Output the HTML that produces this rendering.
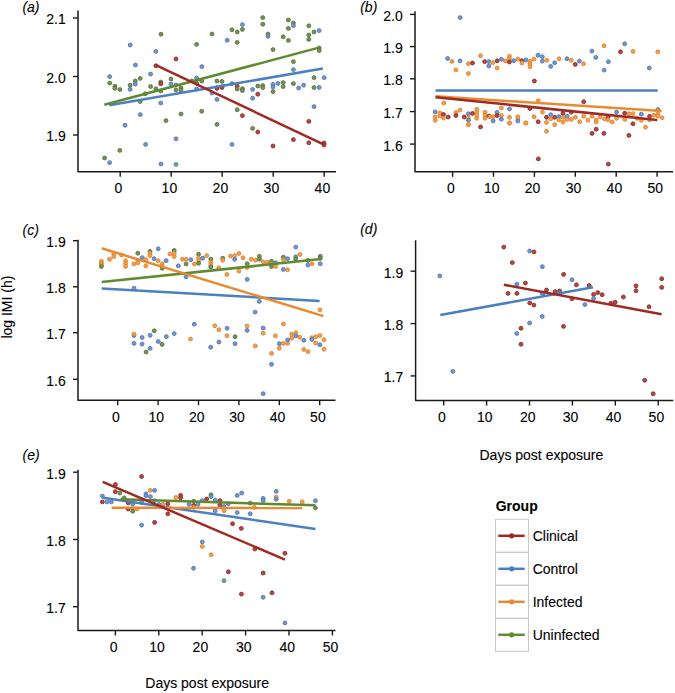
<!DOCTYPE html><html><head><meta charset="utf-8"><style>html,body{margin:0;padding:0;background:#fff;}svg{display:block;}text{font-family:"Liberation Sans", sans-serif;stroke:#000;stroke-width:0.1px;paint-order:stroke;}circle.r{fill:#b04a45;stroke:#8c2b2b;stroke-width:0.9px;}circle.b{fill:#7596cf;stroke:#5276b5;stroke-width:0.9px;}circle.o{fill:#f0a055;stroke:#dc8530;stroke-width:0.9px;}circle.g{fill:#789158;stroke:#58743b;stroke-width:0.9px;}</style></head><body>
<svg width="675" height="693" viewBox="0 0 675 693">
<rect width="675" height="693" fill="#fff"/>
<circle class="g" cx="161.0" cy="34.2" r="1.95"/>
<circle class="g" cx="212.0" cy="34.0" r="1.95"/>
<circle class="b" cx="227.2" cy="40.2" r="1.95"/>
<circle class="b" cx="130.2" cy="45.0" r="1.95"/>
<circle class="g" cx="196.6" cy="44.4" r="1.95"/>
<circle class="b" cx="155.8" cy="51.4" r="1.95"/>
<circle class="r" cx="176.0" cy="59.0" r="1.95"/>
<circle class="b" cx="135.4" cy="65.0" r="1.95"/>
<circle class="r" cx="155.8" cy="65.8" r="1.95"/>
<circle class="b" cx="201.8" cy="66.6" r="1.95"/>
<circle class="b" cx="109.7" cy="76.6" r="1.95"/>
<circle class="b" cx="150.6" cy="74.1" r="1.95"/>
<circle class="g" cx="140.2" cy="78.4" r="1.95"/>
<circle class="g" cx="109.7" cy="83.1" r="1.95"/>
<circle class="g" cx="114.9" cy="86.2" r="1.95"/>
<circle class="g" cx="114.9" cy="88.3" r="1.95"/>
<circle class="g" cx="119.9" cy="89.5" r="1.95"/>
<circle class="g" cx="135.3" cy="80.9" r="1.95"/>
<circle class="b" cx="135.3" cy="84.1" r="1.95"/>
<circle class="g" cx="130.1" cy="85.2" r="1.95"/>
<circle class="b" cx="130.1" cy="89.3" r="1.95"/>
<circle class="g" cx="150.6" cy="86.5" r="1.95"/>
<circle class="g" cx="155.8" cy="88.8" r="1.95"/>
<circle class="g" cx="160.8" cy="82.0" r="1.95"/>
<circle class="r" cx="160.8" cy="83.8" r="1.95"/>
<circle class="g" cx="160.8" cy="91.0" r="1.95"/>
<circle class="g" cx="145.2" cy="93.8" r="1.95"/>
<circle class="g" cx="140.2" cy="101.5" r="1.95"/>
<circle class="b" cx="160.8" cy="103.0" r="1.95"/>
<circle class="b" cx="140.3" cy="114.6" r="1.95"/>
<circle class="g" cx="171.0" cy="79.0" r="1.95"/>
<circle class="b" cx="171.0" cy="84.0" r="1.95"/>
<circle class="b" cx="176.0" cy="85.0" r="1.95"/>
<circle class="g" cx="176.0" cy="90.0" r="1.95"/>
<circle class="g" cx="181.0" cy="88.0" r="1.95"/>
<circle class="g" cx="181.0" cy="90.0" r="1.95"/>
<circle class="b" cx="196.6" cy="78.0" r="1.95"/>
<circle class="g" cx="191.8" cy="81.0" r="1.95"/>
<circle class="g" cx="196.6" cy="83.0" r="1.95"/>
<circle class="g" cx="201.8" cy="81.0" r="1.95"/>
<circle class="b" cx="196.6" cy="89.0" r="1.95"/>
<circle class="g" cx="201.7" cy="111.3" r="1.95"/>
<circle class="g" cx="232.0" cy="29.8" r="1.95"/>
<circle class="g" cx="237.2" cy="32.0" r="1.95"/>
<circle class="g" cx="237.2" cy="42.4" r="1.95"/>
<circle class="b" cx="242.4" cy="24.6" r="1.95"/>
<circle class="g" cx="242.4" cy="29.4" r="1.95"/>
<circle class="g" cx="262.8" cy="17.6" r="1.95"/>
<circle class="g" cx="262.8" cy="24.2" r="1.95"/>
<circle class="g" cx="268.0" cy="34.0" r="1.95"/>
<circle class="b" cx="268.0" cy="36.4" r="1.95"/>
<circle class="g" cx="273.0" cy="49.6" r="1.95"/>
<circle class="g" cx="283.2" cy="36.8" r="1.95"/>
<circle class="g" cx="288.4" cy="20.0" r="1.95"/>
<circle class="g" cx="288.4" cy="28.4" r="1.95"/>
<circle class="g" cx="288.4" cy="40.4" r="1.95"/>
<circle class="g" cx="293.4" cy="23.0" r="1.95"/>
<circle class="b" cx="293.4" cy="25.6" r="1.95"/>
<circle class="g" cx="308.8" cy="25.8" r="1.95"/>
<circle class="g" cx="308.8" cy="35.0" r="1.95"/>
<circle class="g" cx="308.8" cy="39.4" r="1.95"/>
<circle class="g" cx="314.0" cy="32.0" r="1.95"/>
<circle class="b" cx="319.2" cy="30.6" r="1.95"/>
<circle class="g" cx="319.2" cy="48.0" r="1.95"/>
<circle class="g" cx="319.2" cy="50.6" r="1.95"/>
<circle class="g" cx="293.4" cy="61.6" r="1.95"/>
<circle class="b" cx="293.4" cy="69.6" r="1.95"/>
<circle class="g" cx="217.0" cy="81.0" r="1.95"/>
<circle class="g" cx="222.0" cy="81.4" r="1.95"/>
<circle class="b" cx="217.0" cy="87.6" r="1.95"/>
<circle class="r" cx="217.0" cy="88.4" r="1.95"/>
<circle class="b" cx="222.0" cy="86.6" r="1.95"/>
<circle class="r" cx="222.0" cy="87.5" r="1.95"/>
<circle class="b" cx="232.0" cy="83.6" r="1.95"/>
<circle class="r" cx="237.2" cy="86.2" r="1.95"/>
<circle class="g" cx="237.2" cy="89.0" r="1.95"/>
<circle class="g" cx="242.4" cy="88.6" r="1.95"/>
<circle class="g" cx="242.4" cy="90.6" r="1.95"/>
<circle class="b" cx="252.6" cy="89.4" r="1.95"/>
<circle class="g" cx="257.8" cy="86.0" r="1.95"/>
<circle class="g" cx="262.8" cy="85.6" r="1.95"/>
<circle class="g" cx="262.8" cy="87.6" r="1.95"/>
<circle class="b" cx="273.0" cy="84.4" r="1.95"/>
<circle class="b" cx="273.0" cy="87.0" r="1.95"/>
<circle class="g" cx="273.0" cy="91.6" r="1.95"/>
<circle class="b" cx="278.0" cy="83.4" r="1.95"/>
<circle class="g" cx="283.2" cy="82.6" r="1.95"/>
<circle class="g" cx="283.2" cy="86.6" r="1.95"/>
<circle class="g" cx="293.4" cy="83.6" r="1.95"/>
<circle class="b" cx="298.6" cy="88.0" r="1.95"/>
<circle class="b" cx="303.6" cy="85.2" r="1.95"/>
<circle class="g" cx="314.0" cy="77.6" r="1.95"/>
<circle class="g" cx="314.0" cy="87.6" r="1.95"/>
<circle class="b" cx="319.2" cy="87.4" r="1.95"/>
<circle class="b" cx="324.2" cy="77.6" r="1.95"/>
<circle class="r" cx="257.8" cy="94.2" r="1.95"/>
<circle class="b" cx="252.6" cy="98.2" r="1.95"/>
<circle class="b" cx="217.0" cy="99.4" r="1.95"/>
<circle class="b" cx="212.0" cy="93.0" r="1.95"/>
<circle class="b" cx="314.0" cy="106.6" r="1.95"/>
<circle class="g" cx="237.2" cy="109.8" r="1.95"/>
<circle class="g" cx="181.0" cy="114.0" r="1.95"/>
<circle class="g" cx="166.0" cy="120.6" r="1.95"/>
<circle class="b" cx="125.0" cy="125.2" r="1.95"/>
<circle class="g" cx="217.0" cy="124.4" r="1.95"/>
<circle class="b" cx="176.0" cy="138.8" r="1.95"/>
<circle class="b" cx="145.6" cy="144.4" r="1.95"/>
<circle class="g" cx="119.8" cy="150.4" r="1.95"/>
<circle class="g" cx="104.6" cy="158.0" r="1.95"/>
<circle class="b" cx="109.6" cy="162.6" r="1.95"/>
<circle class="b" cx="161.0" cy="164.0" r="1.95"/>
<circle class="b" cx="176.0" cy="164.4" r="1.95"/>
<circle class="r" cx="242.4" cy="115.6" r="1.95"/>
<circle class="r" cx="308.8" cy="121.4" r="1.95"/>
<circle class="g" cx="252.6" cy="128.4" r="1.95"/>
<circle class="r" cx="257.8" cy="132.0" r="1.95"/>
<circle class="b" cx="232.0" cy="144.4" r="1.95"/>
<circle class="r" cx="273.0" cy="146.0" r="1.95"/>
<circle class="r" cx="293.4" cy="139.6" r="1.95"/>
<circle class="r" cx="308.8" cy="142.8" r="1.95"/>
<circle class="r" cx="324.0" cy="143.0" r="1.95"/>
<circle class="r" cx="324.0" cy="145.0" r="1.95"/>
<line x1="109.3" y1="105.3" x2="322.9" y2="68.5" stroke="#4a7fc0" stroke-width="2.5"/>
<line x1="104.3" y1="104.8" x2="319.8" y2="47.4" stroke="#5f8a2e" stroke-width="2.5"/>
<line x1="155.9" y1="65.2" x2="324.0" y2="144.6" stroke="#9e2a22" stroke-width="2.5"/>
<path d="M78.0 10.6 V171.8 H336.0" fill="none" stroke="#1a1a1a" stroke-width="1.5" stroke-linejoin="round"/>
<line x1="73.0" y1="18.0" x2="78.0" y2="18.0" stroke="#1a1a1a" stroke-width="1.4"/>
<text x="65.7" y="24.4" font-size="14" text-anchor="end" fill="#000">2.1</text>
<line x1="73.0" y1="76.5" x2="78.0" y2="76.5" stroke="#1a1a1a" stroke-width="1.4"/>
<text x="65.7" y="82.9" font-size="14" text-anchor="end" fill="#000">2.0</text>
<line x1="73.0" y1="135.0" x2="78.0" y2="135.0" stroke="#1a1a1a" stroke-width="1.4"/>
<text x="65.7" y="141.4" font-size="14" text-anchor="end" fill="#000">1.9</text>
<line x1="120.2" y1="171.8" x2="120.2" y2="176.8" stroke="#1a1a1a" stroke-width="1.4"/>
<text x="118.4" y="193.3" font-size="14" text-anchor="middle" fill="#000">0</text>
<line x1="171.2" y1="171.8" x2="171.2" y2="176.8" stroke="#1a1a1a" stroke-width="1.4"/>
<text x="169.4" y="193.3" font-size="14" text-anchor="middle" fill="#000">10</text>
<line x1="222.2" y1="171.8" x2="222.2" y2="176.8" stroke="#1a1a1a" stroke-width="1.4"/>
<text x="220.4" y="193.3" font-size="14" text-anchor="middle" fill="#000">20</text>
<line x1="273.2" y1="171.8" x2="273.2" y2="176.8" stroke="#1a1a1a" stroke-width="1.4"/>
<text x="271.4" y="193.3" font-size="14" text-anchor="middle" fill="#000">30</text>
<line x1="324.2" y1="171.8" x2="324.2" y2="176.8" stroke="#1a1a1a" stroke-width="1.4"/>
<text x="322.4" y="193.3" font-size="14" text-anchor="middle" fill="#000">40</text>
<text x="22.4" y="11.9" font-size="14" font-style="italic" fill="#000">(a)</text>
<circle class="b" cx="460.2" cy="17.6" r="1.95"/>
<circle class="b" cx="447.6" cy="58.5" r="1.95"/>
<circle class="o" cx="452.0" cy="61.4" r="1.95"/>
<circle class="b" cx="460.1" cy="60.9" r="1.95"/>
<circle class="o" cx="455.9" cy="69.9" r="1.95"/>
<circle class="o" cx="468.4" cy="63.7" r="1.95"/>
<circle class="r" cx="472.5" cy="63.0" r="1.95"/>
<circle class="o" cx="468.4" cy="73.5" r="1.95"/>
<circle class="o" cx="480.6" cy="55.7" r="1.95"/>
<circle class="r" cx="484.7" cy="61.6" r="1.95"/>
<circle class="b" cx="488.8" cy="61.6" r="1.95"/>
<circle class="b" cx="488.8" cy="66.0" r="1.95"/>
<circle class="o" cx="492.8" cy="62.6" r="1.95"/>
<circle class="r" cx="497.2" cy="60.8" r="1.95"/>
<circle class="o" cx="497.2" cy="68.0" r="1.95"/>
<circle class="b" cx="501.4" cy="59.3" r="1.95"/>
<circle class="o" cx="505.4" cy="60.9" r="1.95"/>
<circle class="o" cx="509.4" cy="56.3" r="1.95"/>
<circle class="o" cx="509.4" cy="58.6" r="1.95"/>
<circle class="r" cx="509.4" cy="62.0" r="1.95"/>
<circle class="b" cx="513.7" cy="60.7" r="1.95"/>
<circle class="o" cx="517.9" cy="59.1" r="1.95"/>
<circle class="r" cx="521.9" cy="60.7" r="1.95"/>
<circle class="o" cx="521.9" cy="63.0" r="1.95"/>
<circle class="b" cx="525.9" cy="60.0" r="1.95"/>
<circle class="o" cx="530.0" cy="61.3" r="1.95"/>
<circle class="o" cx="530.0" cy="64.0" r="1.95"/>
<circle class="o" cx="530.0" cy="66.7" r="1.95"/>
<circle class="o" cx="534.0" cy="59.1" r="1.95"/>
<circle class="b" cx="538.0" cy="55.3" r="1.95"/>
<circle class="b" cx="542.3" cy="56.7" r="1.95"/>
<circle class="b" cx="542.3" cy="61.1" r="1.95"/>
<circle class="o" cx="546.7" cy="60.3" r="1.95"/>
<circle class="b" cx="550.7" cy="66.4" r="1.95"/>
<circle class="b" cx="554.7" cy="62.7" r="1.95"/>
<circle class="o" cx="559.0" cy="58.7" r="1.95"/>
<circle class="b" cx="567.0" cy="58.7" r="1.95"/>
<circle class="o" cx="571.3" cy="60.3" r="1.95"/>
<circle class="r" cx="575.3" cy="64.4" r="1.95"/>
<circle class="b" cx="579.4" cy="61.1" r="1.95"/>
<circle class="o" cx="583.5" cy="63.8" r="1.95"/>
<circle class="b" cx="591.9" cy="51.1" r="1.95"/>
<circle class="b" cx="595.8" cy="57.4" r="1.95"/>
<circle class="o" cx="604.1" cy="45.8" r="1.95"/>
<circle class="b" cx="608.4" cy="61.7" r="1.95"/>
<circle class="b" cx="604.1" cy="70.1" r="1.95"/>
<circle class="b" cx="624.7" cy="43.8" r="1.95"/>
<circle class="r" cx="620.5" cy="51.8" r="1.95"/>
<circle class="o" cx="633.0" cy="51.4" r="1.95"/>
<circle class="o" cx="657.8" cy="51.8" r="1.95"/>
<circle class="b" cx="649.3" cy="68.0" r="1.95"/>
<circle class="o" cx="443.8" cy="103.0" r="1.95"/>
<circle class="b" cx="435.2" cy="111.9" r="1.95"/>
<circle class="o" cx="435.2" cy="117.0" r="1.95"/>
<circle class="o" cx="435.2" cy="120.2" r="1.95"/>
<circle class="o" cx="439.9" cy="112.9" r="1.95"/>
<circle class="o" cx="439.9" cy="116.0" r="1.95"/>
<circle class="r" cx="443.5" cy="114.5" r="1.95"/>
<circle class="o" cx="443.5" cy="118.1" r="1.95"/>
<circle class="r" cx="448.2" cy="117.0" r="1.95"/>
<circle class="o" cx="455.9" cy="112.4" r="1.95"/>
<circle class="r" cx="455.9" cy="115.5" r="1.95"/>
<circle class="o" cx="460.1" cy="110.1" r="1.95"/>
<circle class="r" cx="464.2" cy="117.0" r="1.95"/>
<circle class="b" cx="468.4" cy="113.7" r="1.95"/>
<circle class="o" cx="468.4" cy="117.6" r="1.95"/>
<circle class="b" cx="468.4" cy="120.2" r="1.95"/>
<circle class="o" cx="468.4" cy="124.8" r="1.95"/>
<circle class="r" cx="472.5" cy="113.4" r="1.95"/>
<circle class="o" cx="476.7" cy="109.3" r="1.95"/>
<circle class="o" cx="476.7" cy="112.3" r="1.95"/>
<circle class="o" cx="476.7" cy="115.3" r="1.95"/>
<circle class="o" cx="476.7" cy="118.3" r="1.95"/>
<circle class="r" cx="480.6" cy="126.9" r="1.95"/>
<circle class="o" cx="485.0" cy="112.3" r="1.95"/>
<circle class="o" cx="485.0" cy="115.3" r="1.95"/>
<circle class="o" cx="485.0" cy="118.3" r="1.95"/>
<circle class="r" cx="489.1" cy="116.0" r="1.95"/>
<circle class="o" cx="490.0" cy="116.8" r="1.95"/>
<circle class="o" cx="493.1" cy="116.8" r="1.95"/>
<circle class="b" cx="493.1" cy="120.9" r="1.95"/>
<circle class="b" cx="497.1" cy="112.4" r="1.95"/>
<circle class="r" cx="497.1" cy="115.5" r="1.95"/>
<circle class="o" cx="501.4" cy="108.0" r="1.95"/>
<circle class="o" cx="501.4" cy="115.5" r="1.95"/>
<circle class="b" cx="501.4" cy="119.2" r="1.95"/>
<circle class="b" cx="509.5" cy="109.0" r="1.95"/>
<circle class="o" cx="509.5" cy="117.3" r="1.95"/>
<circle class="o" cx="509.5" cy="123.0" r="1.95"/>
<circle class="o" cx="517.8" cy="116.8" r="1.95"/>
<circle class="o" cx="517.8" cy="119.0" r="1.95"/>
<circle class="b" cx="517.8" cy="121.0" r="1.95"/>
<circle class="o" cx="525.8" cy="123.0" r="1.95"/>
<circle class="r" cx="529.9" cy="108.5" r="1.95"/>
<circle class="o" cx="538.2" cy="100.7" r="1.95"/>
<circle class="o" cx="534.1" cy="116.8" r="1.95"/>
<circle class="r" cx="538.2" cy="121.8" r="1.95"/>
<circle class="o" cx="542.4" cy="112.1" r="1.95"/>
<circle class="r" cx="546.5" cy="117.3" r="1.95"/>
<circle class="o" cx="546.5" cy="122.5" r="1.95"/>
<circle class="o" cx="546.5" cy="131.3" r="1.95"/>
<circle class="b" cx="550.7" cy="114.7" r="1.95"/>
<circle class="o" cx="550.7" cy="118.9" r="1.95"/>
<circle class="r" cx="554.7" cy="117.3" r="1.95"/>
<circle class="o" cx="554.7" cy="124.6" r="1.95"/>
<circle class="b" cx="558.8" cy="116.6" r="1.95"/>
<circle class="o" cx="558.8" cy="119.9" r="1.95"/>
<circle class="r" cx="563.0" cy="113.2" r="1.95"/>
<circle class="o" cx="563.0" cy="117.3" r="1.95"/>
<circle class="o" cx="563.0" cy="122.0" r="1.95"/>
<circle class="b" cx="567.1" cy="116.3" r="1.95"/>
<circle class="o" cx="567.1" cy="119.4" r="1.95"/>
<circle class="r" cx="571.3" cy="112.1" r="1.95"/>
<circle class="o" cx="571.3" cy="119.4" r="1.95"/>
<circle class="o" cx="575.4" cy="117.3" r="1.95"/>
<circle class="o" cx="579.6" cy="121.8" r="1.95"/>
<circle class="r" cx="583.7" cy="101.7" r="1.95"/>
<circle class="o" cx="583.7" cy="116.3" r="1.95"/>
<circle class="o" cx="587.9" cy="120.2" r="1.95"/>
<circle class="o" cx="592.0" cy="116.3" r="1.95"/>
<circle class="o" cx="596.2" cy="119.9" r="1.95"/>
<circle class="o" cx="596.2" cy="122.0" r="1.95"/>
<circle class="r" cx="596.2" cy="129.2" r="1.95"/>
<circle class="r" cx="592.0" cy="133.4" r="1.95"/>
<circle class="r" cx="603.9" cy="133.4" r="1.95"/>
<circle class="o" cx="600.3" cy="116.8" r="1.95"/>
<circle class="o" cx="604.5" cy="118.9" r="1.95"/>
<circle class="r" cx="608.1" cy="116.8" r="1.95"/>
<circle class="o" cx="608.1" cy="119.9" r="1.95"/>
<circle class="o" cx="612.2" cy="122.0" r="1.95"/>
<circle class="b" cx="616.6" cy="112.1" r="1.95"/>
<circle class="o" cx="616.6" cy="118.3" r="1.95"/>
<circle class="r" cx="624.7" cy="113.2" r="1.95"/>
<circle class="o" cx="624.7" cy="119.4" r="1.95"/>
<circle class="o" cx="628.9" cy="113.7" r="1.95"/>
<circle class="o" cx="633.0" cy="113.7" r="1.95"/>
<circle class="r" cx="633.0" cy="123.8" r="1.95"/>
<circle class="o" cx="637.2" cy="118.3" r="1.95"/>
<circle class="b" cx="641.3" cy="114.2" r="1.95"/>
<circle class="o" cx="641.3" cy="120.4" r="1.95"/>
<circle class="o" cx="645.5" cy="127.2" r="1.95"/>
<circle class="r" cx="649.6" cy="116.3" r="1.95"/>
<circle class="o" cx="649.6" cy="119.9" r="1.95"/>
<circle class="o" cx="653.8" cy="115.2" r="1.95"/>
<circle class="b" cx="657.9" cy="109.5" r="1.95"/>
<circle class="o" cx="657.9" cy="111.0" r="1.95"/>
<circle class="o" cx="657.9" cy="113.5" r="1.95"/>
<circle class="o" cx="657.9" cy="116.0" r="1.95"/>
<circle class="o" cx="662.1" cy="117.8" r="1.95"/>
<circle class="r" cx="628.9" cy="135.4" r="1.95"/>
<circle class="o" cx="468.5" cy="124.6" r="1.95"/>
<circle class="o" cx="509.6" cy="123.1" r="1.95"/>
<circle class="o" cx="526.0" cy="123.1" r="1.95"/>
<circle class="r" cx="538.3" cy="158.9" r="1.95"/>
<circle class="r" cx="534.4" cy="81.0" r="1.95"/>
<circle class="r" cx="608.3" cy="164.1" r="1.95"/>
<line x1="435.5" y1="90.5" x2="657.7" y2="90.5" stroke="#4a7fc0" stroke-width="2.5"/>
<line x1="435.5" y1="96.3" x2="661.7" y2="111.0" stroke="#e88a30" stroke-width="2.5"/>
<line x1="435.5" y1="97.2" x2="657.3" y2="119.9" stroke="#9e2a22" stroke-width="2.5"/>
<path d="M415.0 11.3 V171.8 H673.0" fill="none" stroke="#1a1a1a" stroke-width="1.5" stroke-linejoin="round"/>
<line x1="410.0" y1="14.4" x2="415.0" y2="14.4" stroke="#1a1a1a" stroke-width="1.4"/>
<text x="402.7" y="20.8" font-size="14" text-anchor="end" fill="#000">2.0</text>
<line x1="410.0" y1="46.6" x2="415.0" y2="46.6" stroke="#1a1a1a" stroke-width="1.4"/>
<text x="402.7" y="53.0" font-size="14" text-anchor="end" fill="#000">1.9</text>
<line x1="410.0" y1="78.8" x2="415.0" y2="78.8" stroke="#1a1a1a" stroke-width="1.4"/>
<text x="402.7" y="85.2" font-size="14" text-anchor="end" fill="#000">1.8</text>
<line x1="410.0" y1="111.6" x2="415.0" y2="111.6" stroke="#1a1a1a" stroke-width="1.4"/>
<text x="402.7" y="118.0" font-size="14" text-anchor="end" fill="#000">1.7</text>
<line x1="410.0" y1="144.1" x2="415.0" y2="144.1" stroke="#1a1a1a" stroke-width="1.4"/>
<text x="402.7" y="150.5" font-size="14" text-anchor="end" fill="#000">1.6</text>
<line x1="452.6" y1="171.8" x2="452.6" y2="176.8" stroke="#1a1a1a" stroke-width="1.4"/>
<text x="450.8" y="193.3" font-size="14" text-anchor="middle" fill="#000">0</text>
<line x1="493.5" y1="171.8" x2="493.5" y2="176.8" stroke="#1a1a1a" stroke-width="1.4"/>
<text x="491.7" y="193.3" font-size="14" text-anchor="middle" fill="#000">10</text>
<line x1="534.4" y1="171.8" x2="534.4" y2="176.8" stroke="#1a1a1a" stroke-width="1.4"/>
<text x="532.6" y="193.3" font-size="14" text-anchor="middle" fill="#000">20</text>
<line x1="575.3" y1="171.8" x2="575.3" y2="176.8" stroke="#1a1a1a" stroke-width="1.4"/>
<text x="573.5" y="193.3" font-size="14" text-anchor="middle" fill="#000">30</text>
<line x1="616.2" y1="171.8" x2="616.2" y2="176.8" stroke="#1a1a1a" stroke-width="1.4"/>
<text x="614.4" y="193.3" font-size="14" text-anchor="middle" fill="#000">40</text>
<line x1="657.1" y1="171.8" x2="657.1" y2="176.8" stroke="#1a1a1a" stroke-width="1.4"/>
<text x="655.3" y="193.3" font-size="14" text-anchor="middle" fill="#000">50</text>
<text x="360.2" y="11.9" font-size="14" font-style="italic" fill="#000">(b)</text>
<circle class="o" cx="101.4" cy="261.3" r="1.95"/>
<circle class="o" cx="101.4" cy="263.2" r="1.95"/>
<circle class="o" cx="101.4" cy="265.0" r="1.95"/>
<circle class="g" cx="101.4" cy="266.5" r="1.95"/>
<circle class="o" cx="109.5" cy="259.2" r="1.95"/>
<circle class="o" cx="113.7" cy="254.0" r="1.95"/>
<circle class="o" cx="113.7" cy="256.6" r="1.95"/>
<circle class="o" cx="121.5" cy="255.0" r="1.95"/>
<circle class="o" cx="125.6" cy="260.7" r="1.95"/>
<circle class="o" cx="125.6" cy="263.5" r="1.95"/>
<circle class="o" cx="125.6" cy="266.5" r="1.95"/>
<circle class="o" cx="133.9" cy="263.9" r="1.95"/>
<circle class="g" cx="137.8" cy="253.2" r="1.95"/>
<circle class="o" cx="137.8" cy="260.7" r="1.95"/>
<circle class="o" cx="137.8" cy="262.8" r="1.95"/>
<circle class="b" cx="142.2" cy="257.6" r="1.95"/>
<circle class="o" cx="145.8" cy="259.7" r="1.95"/>
<circle class="o" cx="145.8" cy="266.0" r="1.95"/>
<circle class="g" cx="150.0" cy="251.4" r="1.95"/>
<circle class="o" cx="150.0" cy="253.5" r="1.95"/>
<circle class="o" cx="150.0" cy="255.6" r="1.95"/>
<circle class="b" cx="154.1" cy="258.7" r="1.95"/>
<circle class="b" cx="158.2" cy="248.8" r="1.95"/>
<circle class="o" cx="158.2" cy="260.7" r="1.95"/>
<circle class="o" cx="162.2" cy="264.0" r="1.95"/>
<circle class="o" cx="162.2" cy="266.5" r="1.95"/>
<circle class="g" cx="162.2" cy="268.3" r="1.95"/>
<circle class="b" cx="166.2" cy="260.7" r="1.95"/>
<circle class="o" cx="170.0" cy="254.0" r="1.95"/>
<circle class="g" cx="174.2" cy="250.4" r="1.95"/>
<circle class="o" cx="174.2" cy="253.5" r="1.95"/>
<circle class="o" cx="174.2" cy="256.6" r="1.95"/>
<circle class="b" cx="178.3" cy="265.9" r="1.95"/>
<circle class="o" cx="182.5" cy="259.2" r="1.95"/>
<circle class="o" cx="186.1" cy="259.2" r="1.95"/>
<circle class="g" cx="186.1" cy="263.9" r="1.95"/>
<circle class="b" cx="186.1" cy="276.8" r="1.95"/>
<circle class="b" cx="190.8" cy="259.7" r="1.95"/>
<circle class="o" cx="194.4" cy="263.9" r="1.95"/>
<circle class="g" cx="198.6" cy="254.3" r="1.95"/>
<circle class="o" cx="198.6" cy="258.2" r="1.95"/>
<circle class="o" cx="198.6" cy="260.7" r="1.95"/>
<circle class="g" cx="198.6" cy="263.3" r="1.95"/>
<circle class="b" cx="202.7" cy="258.2" r="1.95"/>
<circle class="o" cx="206.7" cy="255.6" r="1.95"/>
<circle class="g" cx="210.8" cy="259.2" r="1.95"/>
<circle class="o" cx="210.8" cy="262.3" r="1.95"/>
<circle class="o" cx="210.8" cy="264.9" r="1.95"/>
<circle class="g" cx="210.8" cy="267.0" r="1.95"/>
<circle class="o" cx="218.8" cy="267.8" r="1.95"/>
<circle class="g" cx="222.8" cy="258.2" r="1.95"/>
<circle class="o" cx="222.8" cy="260.2" r="1.95"/>
<circle class="o" cx="226.9" cy="274.5" r="1.95"/>
<circle class="o" cx="230.6" cy="256.1" r="1.95"/>
<circle class="o" cx="234.7" cy="255.6" r="1.95"/>
<circle class="b" cx="234.7" cy="259.2" r="1.95"/>
<circle class="o" cx="238.9" cy="253.5" r="1.95"/>
<circle class="o" cx="243.0" cy="257.8" r="1.95"/>
<circle class="o" cx="238.9" cy="271.1" r="1.95"/>
<circle class="g" cx="247.2" cy="263.7" r="1.95"/>
<circle class="o" cx="247.2" cy="267.5" r="1.95"/>
<circle class="b" cx="247.2" cy="279.4" r="1.95"/>
<circle class="o" cx="251.3" cy="259.2" r="1.95"/>
<circle class="o" cx="255.5" cy="260.2" r="1.95"/>
<circle class="g" cx="259.4" cy="256.4" r="1.95"/>
<circle class="g" cx="259.4" cy="259.2" r="1.95"/>
<circle class="o" cx="263.2" cy="261.8" r="1.95"/>
<circle class="o" cx="267.4" cy="262.3" r="1.95"/>
<circle class="g" cx="271.5" cy="261.3" r="1.95"/>
<circle class="o" cx="271.5" cy="264.0" r="1.95"/>
<circle class="g" cx="271.5" cy="266.5" r="1.95"/>
<circle class="b" cx="275.7" cy="262.8" r="1.95"/>
<circle class="o" cx="275.7" cy="266.5" r="1.95"/>
<circle class="g" cx="283.4" cy="257.2" r="1.95"/>
<circle class="o" cx="283.4" cy="260.1" r="1.95"/>
<circle class="b" cx="283.4" cy="269.4" r="1.95"/>
<circle class="b" cx="287.6" cy="258.7" r="1.95"/>
<circle class="o" cx="287.6" cy="269.8" r="1.95"/>
<circle class="b" cx="295.8" cy="247.1" r="1.95"/>
<circle class="o" cx="299.9" cy="254.5" r="1.95"/>
<circle class="b" cx="295.7" cy="256.8" r="1.95"/>
<circle class="g" cx="295.7" cy="258.9" r="1.95"/>
<circle class="g" cx="307.9" cy="260.4" r="1.95"/>
<circle class="b" cx="307.9" cy="265.1" r="1.95"/>
<circle class="o" cx="312.0" cy="263.8" r="1.95"/>
<circle class="g" cx="320.3" cy="256.3" r="1.95"/>
<circle class="g" cx="320.3" cy="258.3" r="1.95"/>
<circle class="b" cx="320.3" cy="263.8" r="1.95"/>
<circle class="b" cx="134.0" cy="288.1" r="1.95"/>
<circle class="b" cx="134.0" cy="335.5" r="1.95"/>
<circle class="o" cx="134.0" cy="334.1" r="1.95"/>
<circle class="b" cx="134.0" cy="343.4" r="1.95"/>
<circle class="b" cx="142.1" cy="337.5" r="1.95"/>
<circle class="b" cx="142.1" cy="344.1" r="1.95"/>
<circle class="b" cx="150.1" cy="335.3" r="1.95"/>
<circle class="g" cx="154.3" cy="330.8" r="1.95"/>
<circle class="b" cx="158.3" cy="341.5" r="1.95"/>
<circle class="g" cx="162.1" cy="344.4" r="1.95"/>
<circle class="b" cx="150.1" cy="348.4" r="1.95"/>
<circle class="g" cx="146.1" cy="352.0" r="1.95"/>
<circle class="b" cx="166.3" cy="336.6" r="1.95"/>
<circle class="b" cx="174.2" cy="333.6" r="1.95"/>
<circle class="b" cx="194.3" cy="324.2" r="1.95"/>
<circle class="o" cx="190.5" cy="339.1" r="1.95"/>
<circle class="o" cx="214.7" cy="325.7" r="1.95"/>
<circle class="o" cx="218.9" cy="329.7" r="1.95"/>
<circle class="b" cx="227.1" cy="328.3" r="1.95"/>
<circle class="o" cx="227.1" cy="335.7" r="1.95"/>
<circle class="g" cx="235.1" cy="336.7" r="1.95"/>
<circle class="b" cx="235.1" cy="343.7" r="1.95"/>
<circle class="b" cx="218.9" cy="342.0" r="1.95"/>
<circle class="b" cx="210.7" cy="347.2" r="1.95"/>
<circle class="o" cx="247.1" cy="326.0" r="1.95"/>
<circle class="b" cx="247.1" cy="330.4" r="1.95"/>
<circle class="b" cx="255.1" cy="312.1" r="1.95"/>
<circle class="b" cx="259.3" cy="301.4" r="1.95"/>
<circle class="b" cx="263.2" cy="328.0" r="1.95"/>
<circle class="o" cx="263.2" cy="333.2" r="1.95"/>
<circle class="o" cx="255.3" cy="345.9" r="1.95"/>
<circle class="o" cx="275.4" cy="335.8" r="1.95"/>
<circle class="b" cx="279.3" cy="343.7" r="1.95"/>
<circle class="o" cx="283.4" cy="343.4" r="1.95"/>
<circle class="o" cx="279.3" cy="348.2" r="1.95"/>
<circle class="o" cx="271.5" cy="353.4" r="1.95"/>
<circle class="b" cx="271.5" cy="364.3" r="1.95"/>
<circle class="o" cx="283.4" cy="323.9" r="1.95"/>
<circle class="o" cx="319.9" cy="309.8" r="1.95"/>
<circle class="o" cx="287.6" cy="343.3" r="1.95"/>
<circle class="b" cx="287.6" cy="340.0" r="1.95"/>
<circle class="o" cx="291.7" cy="334.1" r="1.95"/>
<circle class="o" cx="291.7" cy="338.2" r="1.95"/>
<circle class="o" cx="295.9" cy="332.7" r="1.95"/>
<circle class="b" cx="295.9" cy="335.9" r="1.95"/>
<circle class="o" cx="299.8" cy="337.3" r="1.95"/>
<circle class="b" cx="303.8" cy="340.3" r="1.95"/>
<circle class="o" cx="303.8" cy="349.5" r="1.95"/>
<circle class="o" cx="308.0" cy="351.6" r="1.95"/>
<circle class="o" cx="311.9" cy="337.7" r="1.95"/>
<circle class="b" cx="311.9" cy="339.4" r="1.95"/>
<circle class="o" cx="315.7" cy="336.7" r="1.95"/>
<circle class="o" cx="319.9" cy="335.5" r="1.95"/>
<circle class="o" cx="315.7" cy="343.0" r="1.95"/>
<circle class="b" cx="319.9" cy="344.8" r="1.95"/>
<circle class="o" cx="324.0" cy="339.8" r="1.95"/>
<circle class="o" cx="324.0" cy="349.3" r="1.95"/>
<circle class="b" cx="263.2" cy="393.7" r="1.95"/>
<line x1="101.7" y1="288.6" x2="319.6" y2="300.9" stroke="#4a7fc0" stroke-width="2.5"/>
<line x1="101.7" y1="282.0" x2="320.8" y2="259.1" stroke="#5f8a2e" stroke-width="2.5"/>
<line x1="101.7" y1="248.3" x2="323.5" y2="316.1" stroke="#e88a30" stroke-width="2.5"/>
<path d="M78.0 239.7 V400.3 H335.5" fill="none" stroke="#1a1a1a" stroke-width="1.5" stroke-linejoin="round"/>
<line x1="73.0" y1="240.7" x2="78.0" y2="240.7" stroke="#1a1a1a" stroke-width="1.4"/>
<text x="65.7" y="247.1" font-size="14" text-anchor="end" fill="#000">1.9</text>
<line x1="73.0" y1="286.8" x2="78.0" y2="286.8" stroke="#1a1a1a" stroke-width="1.4"/>
<text x="65.7" y="293.2" font-size="14" text-anchor="end" fill="#000">1.8</text>
<line x1="73.0" y1="332.7" x2="78.0" y2="332.7" stroke="#1a1a1a" stroke-width="1.4"/>
<text x="65.7" y="339.1" font-size="14" text-anchor="end" fill="#000">1.7</text>
<line x1="73.0" y1="379.3" x2="78.0" y2="379.3" stroke="#1a1a1a" stroke-width="1.4"/>
<text x="65.7" y="385.7" font-size="14" text-anchor="end" fill="#000">1.6</text>
<line x1="117.7" y1="400.3" x2="117.7" y2="405.3" stroke="#1a1a1a" stroke-width="1.4"/>
<text x="115.9" y="421.8" font-size="14" text-anchor="middle" fill="#000">0</text>
<line x1="158.1" y1="400.3" x2="158.1" y2="405.3" stroke="#1a1a1a" stroke-width="1.4"/>
<text x="156.3" y="421.8" font-size="14" text-anchor="middle" fill="#000">10</text>
<line x1="198.5" y1="400.3" x2="198.5" y2="405.3" stroke="#1a1a1a" stroke-width="1.4"/>
<text x="196.7" y="421.8" font-size="14" text-anchor="middle" fill="#000">20</text>
<line x1="238.9" y1="400.3" x2="238.9" y2="405.3" stroke="#1a1a1a" stroke-width="1.4"/>
<text x="237.1" y="421.8" font-size="14" text-anchor="middle" fill="#000">30</text>
<line x1="279.3" y1="400.3" x2="279.3" y2="405.3" stroke="#1a1a1a" stroke-width="1.4"/>
<text x="277.5" y="421.8" font-size="14" text-anchor="middle" fill="#000">40</text>
<line x1="319.7" y1="400.3" x2="319.7" y2="405.3" stroke="#1a1a1a" stroke-width="1.4"/>
<text x="317.9" y="421.8" font-size="14" text-anchor="middle" fill="#000">50</text>
<text x="22.6" y="234.5" font-size="14" font-style="italic" fill="#000">(c)</text>
<circle class="b" cx="439.8" cy="275.9" r="1.95"/>
<circle class="b" cx="452.8" cy="371.4" r="1.95"/>
<circle class="r" cx="503.8" cy="247.1" r="1.95"/>
<circle class="b" cx="529.6" cy="251.0" r="1.95"/>
<circle class="r" cx="534.0" cy="251.9" r="1.95"/>
<circle class="r" cx="512.3" cy="262.6" r="1.95"/>
<circle class="b" cx="542.4" cy="266.7" r="1.95"/>
<circle class="b" cx="516.9" cy="284.2" r="1.95"/>
<circle class="r" cx="525.4" cy="283.1" r="1.95"/>
<circle class="r" cx="508.0" cy="293.4" r="1.95"/>
<circle class="r" cx="516.9" cy="293.4" r="1.95"/>
<circle class="r" cx="546.5" cy="290.0" r="1.95"/>
<circle class="r" cx="542.7" cy="293.2" r="1.95"/>
<circle class="b" cx="542.4" cy="293.5" r="1.95"/>
<circle class="r" cx="529.7" cy="302.9" r="1.95"/>
<circle class="r" cx="533.9" cy="305.1" r="1.95"/>
<circle class="b" cx="542.2" cy="316.5" r="1.95"/>
<circle class="b" cx="529.6" cy="323.0" r="1.95"/>
<circle class="r" cx="521.0" cy="328.3" r="1.95"/>
<circle class="b" cx="516.8" cy="333.5" r="1.95"/>
<circle class="r" cx="521.0" cy="344.3" r="1.95"/>
<circle class="r" cx="555.1" cy="291.7" r="1.95"/>
<circle class="r" cx="559.6" cy="291.0" r="1.95"/>
<circle class="b" cx="559.6" cy="293.1" r="1.95"/>
<circle class="r" cx="563.6" cy="274.4" r="1.95"/>
<circle class="b" cx="572.0" cy="279.8" r="1.95"/>
<circle class="r" cx="576.4" cy="284.8" r="1.95"/>
<circle class="r" cx="572.0" cy="298.8" r="1.95"/>
<circle class="r" cx="563.5" cy="326.4" r="1.95"/>
<circle class="r" cx="589.2" cy="285.5" r="1.95"/>
<circle class="r" cx="593.6" cy="294.5" r="1.95"/>
<circle class="b" cx="593.6" cy="298.4" r="1.95"/>
<circle class="r" cx="597.8" cy="292.6" r="1.95"/>
<circle class="r" cx="602.2" cy="294.7" r="1.95"/>
<circle class="b" cx="584.9" cy="304.6" r="1.95"/>
<circle class="r" cx="610.9" cy="303.3" r="1.95"/>
<circle class="r" cx="615.1" cy="302.2" r="1.95"/>
<circle class="r" cx="623.4" cy="297.0" r="1.95"/>
<circle class="r" cx="636.0" cy="285.9" r="1.95"/>
<circle class="r" cx="636.0" cy="290.8" r="1.95"/>
<circle class="r" cx="649.0" cy="306.8" r="1.95"/>
<circle class="r" cx="661.7" cy="278.8" r="1.95"/>
<circle class="r" cx="661.7" cy="287.4" r="1.95"/>
<circle class="r" cx="644.7" cy="380.3" r="1.95"/>
<circle class="r" cx="653.2" cy="393.8" r="1.95"/>
<line x1="440.3" y1="315.0" x2="593.0" y2="287.3" stroke="#4a7fc0" stroke-width="2.5"/>
<line x1="503.8" y1="284.7" x2="661.6" y2="314.2" stroke="#9e2a22" stroke-width="2.5"/>
<path d="M415.6 240.2 V400.6 H673.3" fill="none" stroke="#1a1a1a" stroke-width="1.5" stroke-linejoin="round"/>
<line x1="410.6" y1="271.2" x2="415.6" y2="271.2" stroke="#1a1a1a" stroke-width="1.4"/>
<text x="403.3" y="277.6" font-size="14" text-anchor="end" fill="#000">1.9</text>
<line x1="410.6" y1="323.6" x2="415.6" y2="323.6" stroke="#1a1a1a" stroke-width="1.4"/>
<text x="403.3" y="330.0" font-size="14" text-anchor="end" fill="#000">1.8</text>
<line x1="410.6" y1="375.9" x2="415.6" y2="375.9" stroke="#1a1a1a" stroke-width="1.4"/>
<text x="403.3" y="382.3" font-size="14" text-anchor="end" fill="#000">1.7</text>
<line x1="443.7" y1="400.6" x2="443.7" y2="405.6" stroke="#1a1a1a" stroke-width="1.4"/>
<text x="441.9" y="422.1" font-size="14" text-anchor="middle" fill="#000">0</text>
<line x1="486.6" y1="400.6" x2="486.6" y2="405.6" stroke="#1a1a1a" stroke-width="1.4"/>
<text x="484.8" y="422.1" font-size="14" text-anchor="middle" fill="#000">10</text>
<line x1="529.5" y1="400.6" x2="529.5" y2="405.6" stroke="#1a1a1a" stroke-width="1.4"/>
<text x="527.7" y="422.1" font-size="14" text-anchor="middle" fill="#000">20</text>
<line x1="572.4" y1="400.6" x2="572.4" y2="405.6" stroke="#1a1a1a" stroke-width="1.4"/>
<text x="570.6" y="422.1" font-size="14" text-anchor="middle" fill="#000">30</text>
<line x1="615.3" y1="400.6" x2="615.3" y2="405.6" stroke="#1a1a1a" stroke-width="1.4"/>
<text x="613.5" y="422.1" font-size="14" text-anchor="middle" fill="#000">40</text>
<line x1="658.2" y1="400.6" x2="658.2" y2="405.6" stroke="#1a1a1a" stroke-width="1.4"/>
<text x="656.4" y="422.1" font-size="14" text-anchor="middle" fill="#000">50</text>
<text x="360.2" y="234.4" font-size="14" font-style="italic" fill="#000">(d)</text>
<circle class="r" cx="141.6" cy="476.5" r="1.95"/>
<circle class="r" cx="115.4" cy="484.5" r="1.95"/>
<circle class="r" cx="115.3" cy="491.7" r="1.95"/>
<circle class="g" cx="119.8" cy="493.0" r="1.95"/>
<circle class="b" cx="102.4" cy="496.1" r="1.95"/>
<circle class="r" cx="102.4" cy="501.9" r="1.95"/>
<circle class="b" cx="106.9" cy="501.9" r="1.95"/>
<circle class="b" cx="111.3" cy="501.9" r="1.95"/>
<circle class="g" cx="124.2" cy="497.9" r="1.95"/>
<circle class="r" cx="128.2" cy="502.8" r="1.95"/>
<circle class="r" cx="128.2" cy="509.0" r="1.95"/>
<circle class="b" cx="132.7" cy="504.1" r="1.95"/>
<circle class="o" cx="132.7" cy="508.6" r="1.95"/>
<circle class="g" cx="132.7" cy="511.2" r="1.95"/>
<circle class="o" cx="137.1" cy="509.0" r="1.95"/>
<circle class="b" cx="141.6" cy="502.3" r="1.95"/>
<circle class="b" cx="146.0" cy="493.9" r="1.95"/>
<circle class="b" cx="146.0" cy="495.7" r="1.95"/>
<circle class="b" cx="150.4" cy="496.6" r="1.95"/>
<circle class="o" cx="150.3" cy="490.4" r="1.95"/>
<circle class="b" cx="154.6" cy="490.4" r="1.95"/>
<circle class="b" cx="154.5" cy="500.7" r="1.95"/>
<circle class="b" cx="158.9" cy="504.3" r="1.95"/>
<circle class="o" cx="163.0" cy="504.3" r="1.95"/>
<circle class="r" cx="167.8" cy="503.7" r="1.95"/>
<circle class="r" cx="167.8" cy="513.8" r="1.95"/>
<circle class="o" cx="175.8" cy="497.5" r="1.95"/>
<circle class="r" cx="180.6" cy="495.4" r="1.95"/>
<circle class="r" cx="180.6" cy="497.8" r="1.95"/>
<circle class="b" cx="189.1" cy="504.3" r="1.95"/>
<circle class="g" cx="193.8" cy="501.3" r="1.95"/>
<circle class="r" cx="193.8" cy="505.5" r="1.95"/>
<circle class="o" cx="193.8" cy="507.3" r="1.95"/>
<circle class="b" cx="198.0" cy="504.3" r="1.95"/>
<circle class="b" cx="202.1" cy="500.7" r="1.95"/>
<circle class="r" cx="206.6" cy="499.0" r="1.95"/>
<circle class="g" cx="211.0" cy="494.8" r="1.95"/>
<circle class="b" cx="211.0" cy="496.6" r="1.95"/>
<circle class="b" cx="215.2" cy="500.1" r="1.95"/>
<circle class="r" cx="219.9" cy="500.7" r="1.95"/>
<circle class="r" cx="219.9" cy="504.9" r="1.95"/>
<circle class="b" cx="215.2" cy="510.8" r="1.95"/>
<circle class="o" cx="224.0" cy="510.8" r="1.95"/>
<circle class="b" cx="224.0" cy="506.5" r="1.95"/>
<circle class="b" cx="228.3" cy="503.7" r="1.95"/>
<circle class="b" cx="237.2" cy="495.4" r="1.95"/>
<circle class="b" cx="241.7" cy="493.0" r="1.95"/>
<circle class="b" cx="237.2" cy="512.6" r="1.95"/>
<circle class="g" cx="250.2" cy="503.1" r="1.95"/>
<circle class="b" cx="250.2" cy="513.8" r="1.95"/>
<circle class="o" cx="254.4" cy="507.3" r="1.95"/>
<circle class="b" cx="263.2" cy="498.4" r="1.95"/>
<circle class="b" cx="263.2" cy="500.7" r="1.95"/>
<circle class="b" cx="276.2" cy="491.4" r="1.95"/>
<circle class="o" cx="276.2" cy="497.1" r="1.95"/>
<circle class="b" cx="276.2" cy="499.2" r="1.95"/>
<circle class="o" cx="289.2" cy="501.3" r="1.95"/>
<circle class="o" cx="302.2" cy="501.8" r="1.95"/>
<circle class="b" cx="315.4" cy="500.7" r="1.95"/>
<circle class="g" cx="315.4" cy="507.8" r="1.95"/>
<circle class="b" cx="141.6" cy="525.1" r="1.95"/>
<circle class="r" cx="154.6" cy="522.4" r="1.95"/>
<circle class="r" cx="232.6" cy="523.7" r="1.95"/>
<circle class="r" cx="241.3" cy="528.4" r="1.95"/>
<circle class="b" cx="202.3" cy="541.9" r="1.95"/>
<circle class="o" cx="202.3" cy="546.5" r="1.95"/>
<circle class="o" cx="211.2" cy="554.8" r="1.95"/>
<circle class="r" cx="254.8" cy="549.0" r="1.95"/>
<circle class="r" cx="284.9" cy="553.3" r="1.95"/>
<circle class="b" cx="193.5" cy="568.3" r="1.95"/>
<circle class="r" cx="228.4" cy="571.8" r="1.95"/>
<circle class="r" cx="263.1" cy="573.0" r="1.95"/>
<circle class="b" cx="224.0" cy="580.7" r="1.95"/>
<circle class="r" cx="241.4" cy="594.1" r="1.95"/>
<circle class="b" cx="263.1" cy="597.3" r="1.95"/>
<circle class="r" cx="272.0" cy="592.8" r="1.95"/>
<circle class="b" cx="285.0" cy="623.0" r="1.95"/>
<line x1="102.7" y1="497.8" x2="315.4" y2="529.0" stroke="#4a7fc0" stroke-width="2.5"/>
<line x1="120.5" y1="499.3" x2="315.4" y2="505.3" stroke="#5f8a2e" stroke-width="2.5"/>
<line x1="111.6" y1="507.8" x2="302.2" y2="508.0" stroke="#e88a30" stroke-width="2.5"/>
<line x1="102.7" y1="481.8" x2="284.9" y2="559.6" stroke="#9e2a22" stroke-width="2.5"/>
<path d="M78.0 469.7 V630.5 H335.5" fill="none" stroke="#1a1a1a" stroke-width="1.5" stroke-linejoin="round"/>
<line x1="73.0" y1="472.2" x2="78.0" y2="472.2" stroke="#1a1a1a" stroke-width="1.4"/>
<text x="65.7" y="478.6" font-size="14" text-anchor="end" fill="#000">1.9</text>
<line x1="73.0" y1="539.5" x2="78.0" y2="539.5" stroke="#1a1a1a" stroke-width="1.4"/>
<text x="65.7" y="545.9" font-size="14" text-anchor="end" fill="#000">1.8</text>
<line x1="73.0" y1="606.7" x2="78.0" y2="606.7" stroke="#1a1a1a" stroke-width="1.4"/>
<text x="65.7" y="613.1" font-size="14" text-anchor="end" fill="#000">1.7</text>
<line x1="115.4" y1="630.5" x2="115.4" y2="635.5" stroke="#1a1a1a" stroke-width="1.4"/>
<text x="113.6" y="652.0" font-size="14" text-anchor="middle" fill="#000">0</text>
<line x1="158.8" y1="630.5" x2="158.8" y2="635.5" stroke="#1a1a1a" stroke-width="1.4"/>
<text x="157.0" y="652.0" font-size="14" text-anchor="middle" fill="#000">10</text>
<line x1="202.2" y1="630.5" x2="202.2" y2="635.5" stroke="#1a1a1a" stroke-width="1.4"/>
<text x="200.4" y="652.0" font-size="14" text-anchor="middle" fill="#000">20</text>
<line x1="245.6" y1="630.5" x2="245.6" y2="635.5" stroke="#1a1a1a" stroke-width="1.4"/>
<text x="243.8" y="652.0" font-size="14" text-anchor="middle" fill="#000">30</text>
<line x1="289.0" y1="630.5" x2="289.0" y2="635.5" stroke="#1a1a1a" stroke-width="1.4"/>
<text x="287.2" y="652.0" font-size="14" text-anchor="middle" fill="#000">40</text>
<line x1="332.4" y1="630.5" x2="332.4" y2="635.5" stroke="#1a1a1a" stroke-width="1.4"/>
<text x="330.6" y="652.0" font-size="14" text-anchor="middle" fill="#000">50</text>
<text x="22.6" y="459.9" font-size="14" font-style="italic" fill="#000">(e)</text>
<text transform="translate(12.4,338.6) rotate(-90)" font-size="14" fill="#000">log IMI (h)</text>
<text x="479.5" y="460.2" font-size="14" fill="#000">Days post exposure</text>
<text x="145.3" y="688.4" font-size="14" fill="#000">Days post exposure</text>
<text x="495.7" y="510.7" font-size="14" font-weight="bold" fill="#000">Group</text>
<rect x="495.5" y="519.3" width="33" height="33" fill="none" stroke="#c8c8c8" stroke-width="1"/>
<line x1="498.3" y1="535.8" x2="524.7" y2="535.8" stroke="#9e2a22" stroke-width="2.5"/>
<circle cx="511.7" cy="535.8" r="2.6" fill="#9e2a22"/>
<text x="532.7" y="540.8" font-size="14" fill="#000">Clinical</text>
<rect x="495.5" y="552.3" width="33" height="33" fill="none" stroke="#c8c8c8" stroke-width="1"/>
<line x1="498.3" y1="568.8" x2="524.7" y2="568.8" stroke="#4a7fc0" stroke-width="2.5"/>
<circle cx="511.7" cy="568.8" r="2.6" fill="#4a7fc0"/>
<text x="532.7" y="573.8" font-size="14" fill="#000">Control</text>
<rect x="495.5" y="585.3" width="33" height="33" fill="none" stroke="#c8c8c8" stroke-width="1"/>
<line x1="498.3" y1="601.8" x2="524.7" y2="601.8" stroke="#e88a30" stroke-width="2.5"/>
<circle cx="511.7" cy="601.8" r="2.6" fill="#e88a30"/>
<text x="532.7" y="606.8" font-size="14" fill="#000">Infected</text>
<rect x="495.5" y="618.3" width="33" height="33" fill="none" stroke="#c8c8c8" stroke-width="1"/>
<line x1="498.3" y1="634.8" x2="524.7" y2="634.8" stroke="#5f8a2e" stroke-width="2.5"/>
<circle cx="511.7" cy="634.8" r="2.6" fill="#5f8a2e"/>
<text x="532.7" y="639.8" font-size="14" fill="#000">Uninfected</text>
</svg></body></html>
